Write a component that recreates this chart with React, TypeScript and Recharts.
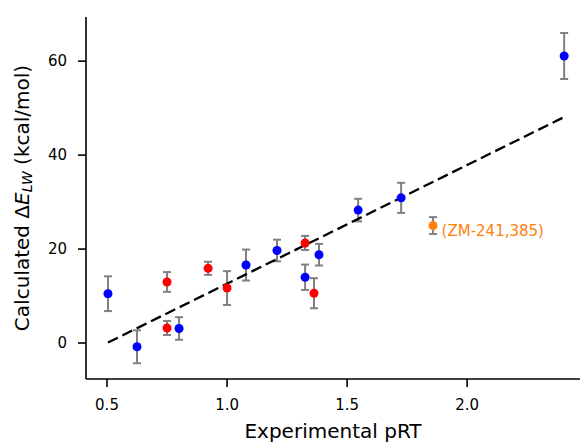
import {
  ScatterChart,
  Scatter,
  XAxis,
  YAxis,
  ZAxis,
  ErrorBar,
  LabelList,
} from "recharts";

// values
const blueX = [0.504, 0.625, 0.8, 1.079, 1.208, 1.325, 1.383, 1.546, 1.725, 2.404];
const blueY = [10.5, -0.8, 3.1, 16.6, 19.7, 14.0, 18.8, 28.3, 30.9, 61.1];
const blueErr = [3.7, 3.5, 2.4, 3.3, 2.3, 2.7, 2.3, 2.4, 3.2, 4.9];

const redX = [0.75, 0.75, 0.921, 1.0, 1.325, 1.362];
const redY = [13.0, 3.2, 15.9, 11.7, 21.3, 10.6];
const redErr = [2.1, 1.5, 1.4, 3.6, 1.5, 3.2];

const outlierX = [1.858];
const outlierY = [25.0];
const outlierErr = [1.8];
const outlierName = ["(ZM-241,385)"];

// least squares fit line end points
const fitX = [0.504, 2.404];
const fitY = [0.1, 48.1];

const xTicks = [0.5, 1.0, 1.5, 2.0];
const yTicks = [0, 20, 40, 60];

const FONT = "DejaVu Sans, sans-serif";

const toRows = (xs: number[], ys: number[], errs?: number[]) =>
  xs.map((x, i) => ({ x, y: ys[i], err: errs ? errs[i] : 0 }));

const blueRows = toRows(blueX, blueY, blueErr);
const redRows = toRows(redX, redY, redErr);
const outlierRows = toRows(outlierX, outlierY, outlierErr).map((r, i) => ({
  ...r,
  name: outlierName[i],
}));
const fitRows = toRows(fitX, fitY);

function YTitle(props: any) {
  const vb = props.viewBox ?? { x: 0, y: 17, width: 86, height: 362 };
  const cx = vb.x + 22;
  const cy = vb.y + vb.height / 2;
  return (
    <text
      x={cx}
      y={cy}
      transform={`rotate(-90, ${cx}, ${cy})`}
      textAnchor="middle"
      dominantBaseline="central"
      fontSize={20}
      fill="#000"
      fontFamily={FONT}
    >
      Calculated Δ<tspan fontStyle="italic">E</tspan>
      <tspan fontStyle="italic" fontSize={14} dy={5}>
        LW
      </tspan>
      <tspan dy={-5}> (kcal/mol)</tspan>
    </text>
  );
}

function XTitle(props: any) {
  const vb = props.viewBox ?? { x: 86, y: 379, width: 494, height: 64 };
  return (
    <text
      x={vb.x + vb.width / 2}
      y={vb.y + 52}
      textAnchor="middle"
      dominantBaseline="central"
      fontSize={20}
      fill="#000"
      fontFamily={FONT}
    >
      Experimental pRT
    </text>
  );
}

// annotation sits just right of the point and a little below it
function Annot(props: any) {
  return (
    <text
      x={props.x + props.width + 4}
      y={props.y + props.height / 2 + 5}
      dominantBaseline="central"
      fill="#ff7f0e"
      fontSize={15}
      fontFamily={FONT}
    >
      {props.value}
    </text>
  );
}

const noDot = () => <g />;

export default function App() {
  return (
    <div style={{ position: "absolute", left: 0, top: 0 }}>
      <ScatterChart
        width={580}
        height={443}
        margin={{ top: 17, right: 0, bottom: 0, left: 0 }}
        style={{ fontFamily: FONT }}
      >
        <XAxis
          type="number"
          dataKey="x"
          domain={[0.4125, 2.47]}
          ticks={xTicks}
          allowDataOverflow
          tickFormatter={(v: number) => v.toFixed(1)}
          height={64}
          tickSize={8}
          tickMargin={12}
          tick={{ fontSize: 15, fill: "#000", fontFamily: FONT }}
          axisLine={{ stroke: "#000", strokeWidth: 1.6 }}
          tickLine={{ stroke: "#000", strokeWidth: 1.6 }}
          label={<XTitle />}
        />
        <YAxis
          type="number"
          dataKey="y"
          domain={[-7.66, 69.4]}
          ticks={yTicks}
          allowDataOverflow
          width={86}
          tickSize={8}
          tickMargin={11}
          tick={{ fontSize: 15, fill: "#000", fontFamily: FONT }}
          axisLine={{ stroke: "#000", strokeWidth: 1.6 }}
          tickLine={{ stroke: "#000", strokeWidth: 1.6 }}
          label={<YTitle />}
        />
        <ZAxis range={[48, 48]} />
        <Scatter
          data={fitRows}
          line={{ stroke: "#000", strokeWidth: 2.3, strokeDasharray: "11 5" }}
          shape={noDot}
          isAnimationActive={false}
        />
        <Scatter data={blueRows} fill="#0000ff" isAnimationActive={false}>
          <ErrorBar dataKey="err" direction="y" width={4} stroke="#808080" strokeWidth={2} />
        </Scatter>
        <Scatter data={redRows} fill="#ff0000" isAnimationActive={false}>
          <ErrorBar dataKey="err" direction="y" width={4} stroke="#808080" strokeWidth={2} />
        </Scatter>
        <Scatter data={outlierRows} fill="#ff7f0e" isAnimationActive={false}>
          <ErrorBar dataKey="err" direction="y" width={4} stroke="#808080" strokeWidth={2} />
          <LabelList dataKey="name" content={<Annot />} />
        </Scatter>
      </ScatterChart>
    </div>
  );
}
